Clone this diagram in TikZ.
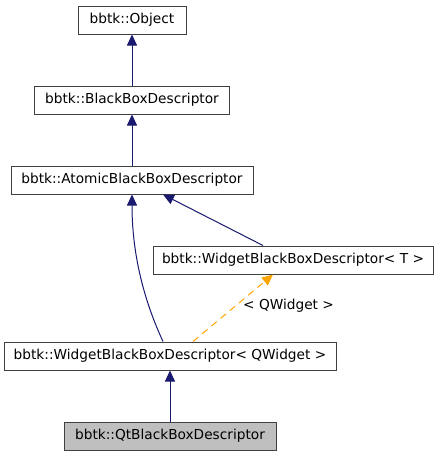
\documentclass[tikz,border=0pt]{standalone}
\usepackage{fontspec}
\setmainfont{DejaVu Sans}
\usetikzlibrary{arrows.meta,calc}
\definecolor{navy}{HTML}{191970}
\definecolor{boxline}{HTML}{404040}
\definecolor{dep}{HTML}{FFA500}
\definecolor{qtfill}{HTML}{BFBFBF}
\begin{document}
\begin{tikzpicture}[x=1pt,y=-1pt,
  lab/.style={font=\fontsize{13.7pt}{16pt}\selectfont,text=black},
  cls/.style={lab,draw=boxline,line width=1pt,fill=white,minimum height=28pt,inner sep=0pt},
  inh/.style={draw=navy,line width=1pt,-{Triangle[length=11pt,width=10pt]},color=navy},
  tmpl/.style={draw=dep,line width=1pt,dash pattern=on 7pt off 5pt,-{Triangle[length=11pt,width=10pt]},color=dep}]
\useasboundingbox (0,0) rectangle (439,456);
\node[cls,minimum width=108pt] (obj) at (132,20) {bbtk::Object};
\node[cls,minimum width=195pt] (bbd) at (132,100) {bbtk::BlackBoxDescriptor};
\node[cls,minimum width=242pt] (abd) at (132,180) {bbtk::AtomicBlackBoxDescriptor};
\node[cls,minimum width=280pt] (wt) at (293,260) {bbtk::WidgetBlackBoxDescriptor< T >};
\node[cls,minimum width=332pt] (wq) at (170,356) {bbtk::WidgetBlackBoxDescriptor< QWidget >};
\node[cls,minimum width=212pt,fill=qtfill] (qt) at (170,436) {bbtk::QtBlackBoxDescriptor};
\draw[inh] (bbd.north) -- (obj.south);
\draw[inh] (abd.north) -- (bbd.south);
\draw[inh] ($(wt.north)+(-30,0)$) -- ($(abd.south)+(31,0)$);
\draw[inh] ($(wq.north)+(-7,0)$) .. controls (140,292) and (132,245) .. (abd.south);
\draw[tmpl] ($(wq.north)+(23,0)$) -- ($(wt.south)+(-20,0)$);
\node[lab,anchor=west,inner sep=0pt] (lbl) at (243,306) {< QWidget >};
\draw[inh] (qt.north) -- (wq.south);
\end{tikzpicture}
\end{document}
